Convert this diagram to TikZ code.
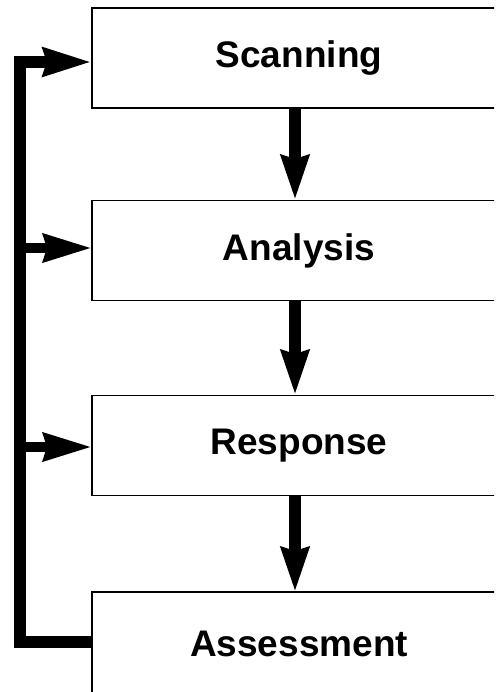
\documentclass[tikz,border=0pt]{standalone}
\usepackage{fontspec}
\setmainfont{Liberation Sans}
\usetikzlibrary{arrows.meta}
\begin{document}
\begin{tikzpicture}[x=1pt,y=-1pt,
  stagebox/.style={draw, line width=1.6pt, minimum width=414pt, minimum height=100pt, inner sep=0pt, font=\fontsize{37}{40}\selectfont\bfseries},
  flow/.style={line width=12pt, -{Stealth[length=44pt, width=27pt, inset=3pt]}},
  fb/.style={line width=10pt, line join=miter, -{Stealth[length=48pt, width=27pt, inset=3pt]}},
  trunk/.style={line width=11.5pt, line join=miter, -{Stealth[length=48pt, width=27pt, inset=3pt]}}]
\useasboundingbox (0,0) rectangle (495,692);
\clip (0,0) rectangle (494,692);
\node[stagebox] (b1) at (299,58) {Scanning};
\node[stagebox] (b2) at (299,250.5) {Analysis};
\node[stagebox] (b3) at (299,445.5) {Response};
\node[stagebox, minimum height=104pt] (b4) at (299,644) {Assessment};
\coordinate (s1) at (295,108);
\coordinate (e1) at (295,200);
\coordinate (s2) at (295,301);
\coordinate (e2) at (295,395);
\coordinate (s3) at (295,496);
\coordinate (e3) at (295,592);
\draw[flow] (s1) -- (e1);
\draw[flow] (s2) -- (e2);
\draw[flow] (s3) -- (e3);
\coordinate (a1) at (92,62);
\coordinate (a2) at (92,248);
\coordinate (a3) at (92,447);
\coordinate (f4) at (92,642);
\coordinate (k) at (20,642);
\coordinate (j1) at (20,62);
\coordinate (j2) at (20,248);
\coordinate (j3) at (20,447);
\draw[trunk] (f4) -- (k) -- (j1) -- (a1);
\draw[fb] (j2) -- (a2);
\draw[fb] (j3) -- (a3);
\end{tikzpicture}
\end{document}
